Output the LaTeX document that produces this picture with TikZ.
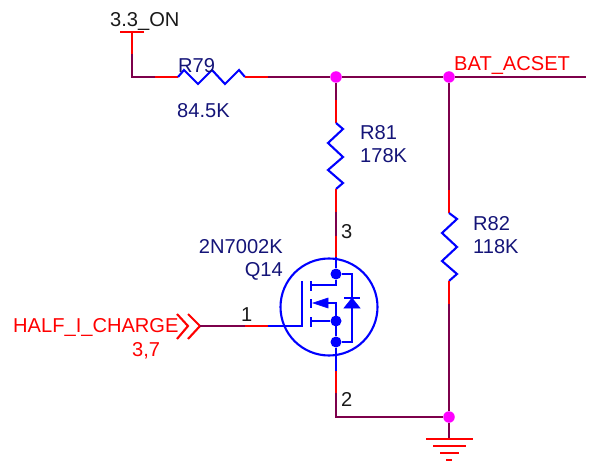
\documentclass[tikz,border=0pt]{standalone}
\usepackage{fontspec}
\setmainfont{Liberation Sans}
\definecolor{wire}{RGB}{125,0,75}
\definecolor{lab}{RGB}{20,20,120}
\definecolor{hot}{RGB}{255,0,0}
\definecolor{sym}{RGB}{0,0,255}
\definecolor{junc}{RGB}{255,0,255}
\tikzset{
 x=1pt,y=-1pt,
 wirel/.style={wire,line width=2.1pt},
 pinl/.style={hot,line width=2.1pt},
 syml/.style={sym,line width=2.1pt,line join=miter},
 symf/.style={fill=sym,draw=sym,line width=0.5pt},
 dotj/.style={circle,fill=junc,inner sep=0,minimum size=11.5pt},
 dots/.style={circle,fill=sym,inner sep=0,minimum size=11pt},
 txt/.style={inner sep=0,anchor=base west,font=\fontsize{20.1}{21}\selectfont},
 blk/.style={txt,text=black!90},
 navy/.style={txt,text=lab},
 redt/.style={txt,text=hot},
}
\begin{document}
\begin{tikzpicture}
\useasboundingbox (0,0) rectangle (605,473);
% named points
\coordinate (pwrl) at (120,32); \coordinate (pwr) at (132,32); \coordinate (pwrr) at (144,32);
\coordinate (pwra) at (132,54);
\coordinate (corner) at (132,77);
\coordinate (r79a) at (155,77); \coordinate (r79b) at (178,77);
\coordinate (r79c) at (245,77); \coordinate (r79d) at (268,77);
\coordinate (netend) at (586,77);
\coordinate (r81p) at (336,100); \coordinate (r81a) at (336,123);
\coordinate (r81b) at (336,189); \coordinate (q3a) at (336,212); \coordinate (q3b) at (336,236);
\coordinate (r82p) at (449,190); \coordinate (r82a) at (449,213);
\coordinate (r82b) at (449,281); \coordinate (r82c) at (449,304);
\coordinate (q2a) at (336,371); \coordinate (q2b) at (336,393); \coordinate (q2c) at (336,417);
\coordinate (gnd) at (449,439);
\coordinate (inp) at (200,326); \coordinate (g1) at (245,326); \coordinate (g2) at (268,326);
\coordinate (gate) at (302,326);
\node[dotj] (j1) at (336,77) {};
\node[dotj] (j2) at (449,77) {};
\node[dotj] (j3) at (449,417) {};
\node[circle,draw=sym,line width=2.1pt,inner sep=0,minimum size=97pt] (qc) at (329,307) {};
\node[dots] (d1) at (336,274) {};
\node[dots] (d2) at (336,321) {};
\node[dots] (d3) at (336,342) {};
% power
\draw[pinl] (pwrl) -- (pwrr);
\draw[pinl] (pwr) -- (pwra);
\draw[wirel] (pwra) -- (corner) -- (r79a);
\draw[pinl] (r79a) -- (r79b);
\draw[syml] (r79b) -- (184,70) -- (198,84) -- (212,70) -- (225,84) -- (239,70) -- (r79c);
\draw[pinl] (r79c) -- (r79d);
\draw[wirel] (r79d) -- (j1) -- (j2) -- (netend);
% R81
\draw[wirel] (j1) -- (r81p);
\draw[pinl] (r81p) -- (r81a);
\draw[syml] (r81a) -- (343,129) -- (328,143) -- (343,157) -- (328,170) -- (343,183) -- (r81b);
\draw[pinl] (r81b) -- (q3a);
\draw[wirel] (q3a) -- (q3b);
\draw[pinl] (q3b) -- (qc.north -| q3b);
% R82
\draw[wirel] (j2) -- (r82p);
\draw[pinl] (r82p) -- (r82a);
\draw[syml] (r82a) -- (457,219) -- (442,233) -- (457,247) -- (442,261) -- (457,274) -- (r82b);
\draw[pinl] (r82b) -- (r82c);
\draw[wirel] (r82c) -- (j3) -- (gnd);
% source to ground
\draw[syml] (d3) -- (q2a);
\draw[pinl] (q2a) -- (q2b);
\draw[wirel] (q2b) -- (q2c) -- (j3);
% ground symbol
\draw[pinl] (426,439) -- (473,439);
\draw[pinl] (433,446) -- (466,446);
\draw[pinl] (440,453) -- (459,453);
\draw[pinl] (446,460) -- (452,460);
% input
\draw[pinl] (177,314) -- (188,326) -- (177,339);
\draw[pinl] (188,314) -- (inp) -- (188,339);
\draw[wirel] (inp) -- (g1);
\draw[pinl] (g1) -- (g2);
% MOSFET
\draw[syml] (g2) -- (gate) -- (302,281);
\draw[syml] (311,281) -- (311,291);
\draw[syml] (311,299) -- (311,308);
\draw[syml] (311,317) -- (311,327);
\draw[syml] (qc.north -| d1) -- (d1) -- (336,285) -- (311,285);
\draw[syml] (d2) -- (311,321);
\draw[syml] (328,303) -- (336,303) -- (d3);
\draw[syml] (d1) -- (352,274) -- (352,342) -- (d3);
\draw[symf] (313,303) -- (328,298) -- (328,308) -- cycle;
\draw[symf] (352,298) -- (360,308) -- (344,308) -- cycle;
\draw[syml] (344,298) -- (360,298);
% labels
\node[blk] (t33) at (110,27) {3.3\_ON};
\node[navy] (tr79) at (178,73) {R79};
\node[navy] (tv79) at (177,118) {84.5K};
\node[redt] (tbat) at (454,71) {BAT\_ACSET};
\node[navy] (tr81) at (360,140) {R81};
\node[navy] (tv81) at (360,163) {178K};
\node[navy] (tr82) at (473,231) {R82};
\node[navy] (tv82) at (473,253) {118K};
\node[blk] (tp3) at (341,238) {3};
\node[blk] (tp2) at (341,406) {2};
\node[blk] (tp1) at (241,321) {1};
\node[navy,anchor=base east] (tq) at (283,254) {2N7002K};
\node[navy,anchor=base east] (tq14) at (283,276) {Q14};
\node[redt] (thalf) at (13,332) {HALF\_I\_CHARGE};
\node[redt] (t37) at (132,356) {3,7};
\end{tikzpicture}
\end{document}
